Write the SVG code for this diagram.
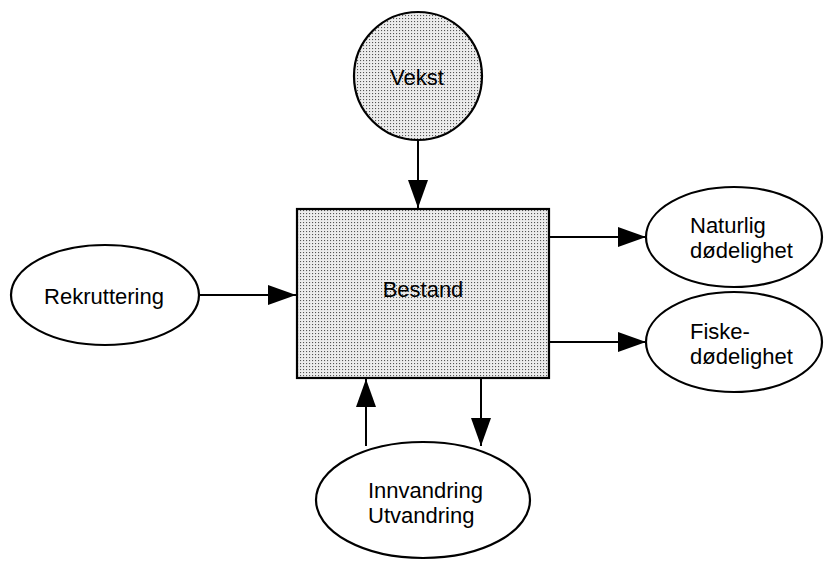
<svg xmlns="http://www.w3.org/2000/svg" width="827" height="562" viewBox="0 0 827 562">
<style>
.shape{stroke:#000;stroke-width:2.2}
.white{fill:#fff}
.dot{fill:url(#stipple)}
.lbl{font-family:"Liberation Sans",Arial,sans-serif;font-size:22px;fill:#000}
.conn{stroke:#000;stroke-width:2;fill:none;marker-end:url(#ah)}
</style>
<defs>
<pattern id="stipple" patternUnits="userSpaceOnUse" width="3" height="3">
<rect width="3" height="3" fill="#ececec"/>
<rect x="0" y="0" width="1.1" height="1.1" fill="#555"/>
</pattern>
<marker id="ah" markerUnits="userSpaceOnUse" markerWidth="30" markerHeight="22" refX="28" refY="10" orient="auto">
<path d="M0,0 L28,10 L0,20 Z" fill="#000"/>
</marker>
</defs>
<rect width="827" height="562" fill="#fff"/>
<g id="connectors">
<line class="conn" x1="418" y1="140" x2="418" y2="208"/>
<line class="conn" x1="199" y1="295" x2="296" y2="295"/>
<line class="conn" x1="550" y1="237" x2="646" y2="237"/>
<line class="conn" x1="550" y1="342" x2="646" y2="342"/>
<line class="conn" x1="366" y1="446" x2="366" y2="379"/>
<line class="conn" x1="481" y1="379" x2="481" y2="446"/>
</g>
<g id="vekst">
<circle class="shape dot" cx="418" cy="76" r="64"/>
<text class="lbl" x="417" y="85" text-anchor="middle">Vekst</text>
</g>
<g id="bestand">
<rect class="shape dot" x="297" y="209" width="252" height="169"/>
<text class="lbl" x="423" y="297" text-anchor="middle">Bestand</text>
</g>
<g id="rekruttering">
<ellipse class="shape white" cx="105" cy="295" rx="94" ry="50"/>
<text class="lbl" x="104" y="304" text-anchor="middle">Rekruttering</text>
</g>
<g id="naturlig">
<ellipse class="shape white" cx="734" cy="237" rx="88" ry="50"/>
<text class="lbl" x="690" y="233">Naturlig</text>
<text class="lbl" x="690" y="258">dødelighet</text>
</g>
<g id="fiske">
<ellipse class="shape white" cx="734" cy="342" rx="88" ry="50"/>
<text class="lbl" x="690" y="339">Fiske-</text>
<text class="lbl" x="690" y="364">dødelighet</text>
</g>
<g id="vandring">
<ellipse class="shape white" cx="423" cy="500" rx="107" ry="58"/>
<text class="lbl" x="368" y="498">Innvandring</text>
<text class="lbl" x="368" y="523">Utvandring</text>
</g>
</svg>
